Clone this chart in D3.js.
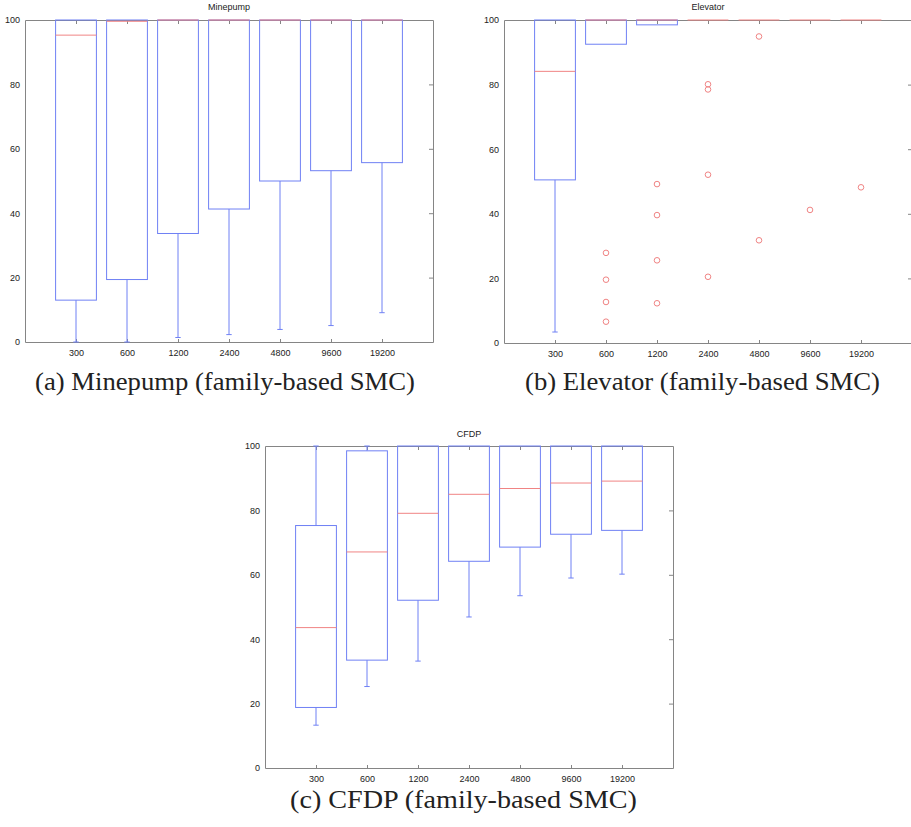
<!DOCTYPE html>
<html>
<head>
<meta charset="utf-8">
<script src="https://cdn.jsdelivr.net/npm/d3@7"></script>
<style>
  html, body { margin: 0; padding: 0; background: #ffffff; }
  svg { display: block; }
</style>
</head>
<body>
<svg id="chart" width="911" height="827"></svg>
<script>
// ---------------- DATA ----------------
const categories = ["300", "600", "1200", "2400", "4800", "9600", "19200"];
const yTicks = [0, 20, 40, 60, 80, 100];

// (a) Minepump
const minepumpTitle = "Minepump";
const minepumpCaption = "(a) Minepump (family-based SMC)";
const minepumpLow    = [0, 0, 1.4, 2.3, 3.9, 5.1, 9.1];
const minepumpQ1     = [13.0, 19.4, 33.7, 41.3, 50.0, 53.2, 55.7];
const minepumpMedian = [95.3, 99.6, 100, 100, 100, 100, 100];
const minepumpQ3     = [100, 100, 100, 100, 100, 100, 100];
const minepumpHigh   = [100, 100, 100, 100, 100, 100, 100];
const minepumpOutliers = [[], [], [], [], [], [], []];

// (b) Elevator
const elevatorTitle = "Elevator";
const elevatorCaption = "(b) Elevator (family-based SMC)";
const elevatorLow    = [3.4, 92.5, 98.5, 100, 100, 100, 100];
const elevatorQ1     = [50.5, 92.5, 98.5, 100, 100, 100, 100];
const elevatorMedian = [84.1, 100, 100, 100, 100, 100, 100];
const elevatorQ3     = [100, 100, 100, 100, 100, 100, 100];
const elevatorHigh   = [100, 100, 100, 100, 100, 100, 100];
const elevatorOutliers = [
  [],
  [27.9, 19.6, 12.7, 6.6],
  [49.2, 39.6, 25.6, 12.3],
  [80.1, 78.5, 52.1, 20.5],
  [94.9, 31.8],
  [41.2],
  [48.2]
];

// (c) CFDP
const cfdpTitle = "CFDP";
const cfdpCaption = "(c) CFDP (family-based SMC)";
const cfdpLow    = [13.3, 25.3, 33.2, 46.9, 53.5, 59.0, 60.2];
const cfdpQ1     = [18.8, 33.5, 52.1, 64.2, 68.6, 72.6, 73.8];
const cfdpMedian = [43.6, 67.1, 79.1, 85.0, 86.8, 88.5, 89.1];
const cfdpQ3     = [75.3, 98.5, 100, 100, 100, 100, 100];
const cfdpHigh   = [100, 100, 100, 100, 100, 100, 100];
const cfdpOutliers = [[], [], [], [], [], [], []];

// ---------------- LAYOUT / STYLE ----------------
const BLUE = "#6f80f4";
const RED = "#f08484";
const AXIS = "#858585";
const TEXT = "#222222";
const SANS = "'Liberation Sans', Arial, Helvetica, sans-serif";
const SERIF = "'Liberation Serif', 'DejaVu Serif', serif";

const panels = [
  { title: minepumpTitle, caption: minepumpCaption,
    low: minepumpLow, q1: minepumpQ1, med: minepumpMedian, q3: minepumpQ3, high: minepumpHigh, out: minepumpOutliers,
    left: 25, right: 433, top: 20, bottom: 342, titleY: 10,
    capX: 35, capW: 380, capY: 390 },
  { title: elevatorTitle, caption: elevatorCaption,
    low: elevatorLow, q1: elevatorQ1, med: elevatorMedian, q3: elevatorQ3, high: elevatorHigh, out: elevatorOutliers,
    left: 504, right: 912, top: 20, bottom: 343, titleY: 10,
    capX: 525, capW: 355, capY: 390 },
  { title: cfdpTitle, caption: cfdpCaption,
    low: cfdpLow, q1: cfdpQ1, med: cfdpMedian, q3: cfdpQ3, high: cfdpHigh, out: cfdpOutliers,
    left: 265, right: 673, top: 446, bottom: 768, titleY: 437,
    capX: 290, capW: 347, capY: 808 }
];

const svg = d3.select("#chart");

function drawPanel(p) {
  const g = svg.append("g");
  const x = d3.scalePoint().domain(categories).range([p.left, p.right]).padding(1);
  const y = d3.scaleLinear().domain([0, 100]).range([p.bottom, p.top]);
  const bw = x.step() * 0.8;
  const capHalf = 2.7;

  // axes (frame)
  const styleAxis = sel => {
    sel.selectAll(".domain").attr("stroke", AXIS).attr("stroke-width", 1);
    sel.selectAll(".tick line").attr("stroke", AXIS).attr("stroke-width", 1);
    sel.selectAll(".tick text").attr("fill", TEXT).attr("font-family", SANS).attr("font-size", 9);
  };
  g.append("g").attr("transform", `translate(0,${p.bottom})`)
    .call(d3.axisBottom(x).tickSizeInner(-3).tickSizeOuter(0).tickPadding(7.5))
    .call(styleAxis);
  g.append("g").attr("transform", `translate(0,${p.top})`)
    .call(d3.axisTop(x).tickSizeInner(-4).tickSizeOuter(0).tickFormat(""))
    .call(styleAxis);
  g.append("g").attr("transform", `translate(${p.left},0)`)
    .call(d3.axisLeft(y).tickValues(yTicks).tickSizeInner(0).tickSizeOuter(0).tickPadding(5))
    .call(styleAxis);
  g.append("g").attr("transform", `translate(${p.right},0)`)
    .call(d3.axisRight(y).tickValues(yTicks).tickSizeInner(-4).tickSizeOuter(0).tickFormat(""))
    .call(styleAxis);
  g.selectAll("text").attr("font-family", SANS).attr("font-size", 9);

  // title
  g.append("text")
    .attr("x", (p.left + Math.min(p.right, 912)) / 2)
    .attr("y", p.titleY)
    .attr("text-anchor", "middle")
    .attr("font-family", SANS).attr("font-size", 9).attr("fill", TEXT)
    .text(p.title);

  const boxes = g.append("g").attr("fill", "none").attr("stroke", BLUE).attr("stroke-width", 1);
  categories.forEach((c, i) => {
    const cx = x(c);
    // whiskers
    if (p.low[i] < p.q1[i]) {
      boxes.append("line").attr("x1", cx).attr("x2", cx).attr("y1", y(p.q1[i])).attr("y2", y(p.low[i]));
      boxes.append("line").attr("x1", cx - capHalf).attr("x2", cx + capHalf).attr("y1", y(p.low[i])).attr("y2", y(p.low[i]));
    }
    if (p.high[i] > p.q3[i]) {
      boxes.append("line").attr("x1", cx).attr("x2", cx).attr("y1", y(p.q3[i])).attr("y2", y(p.high[i]));
      boxes.append("line").attr("x1", cx - capHalf).attr("x2", cx + capHalf).attr("y1", y(p.high[i])).attr("y2", y(p.high[i]));
    }
    // box
    boxes.append("rect")
      .attr("x", cx - bw / 2).attr("width", bw)
      .attr("y", y(p.q3[i])).attr("height", Math.max(0, y(p.q1[i]) - y(p.q3[i])));
  });

  // medians
  const meds = g.append("g").attr("stroke", RED).attr("stroke-width", 1);
  categories.forEach((c, i) => {
    const cx = x(c);
    meds.append("line")
      .attr("x1", cx - bw / 2).attr("x2", cx + bw / 2)
      .attr("y1", y(p.med[i])).attr("y2", y(p.med[i]));
  });

  // outliers
  const outs = g.append("g").attr("fill", "none").attr("stroke", RED).attr("stroke-width", 1);
  categories.forEach((c, i) => {
    p.out[i].forEach(v => {
      outs.append("circle").attr("cx", x(c)).attr("cy", y(v)).attr("r", 2.8);
    });
  });

  // caption
  svg.append("text")
    .attr("x", p.capX).attr("y", p.capY)
    .attr("font-family", SERIF).attr("font-size", 25).attr("fill", TEXT)
    .attr("textLength", p.capW).attr("lengthAdjust", "spacingAndGlyphs")
    .text(p.caption);
}

panels.forEach(drawPanel);
</script>
</body>
</html>
